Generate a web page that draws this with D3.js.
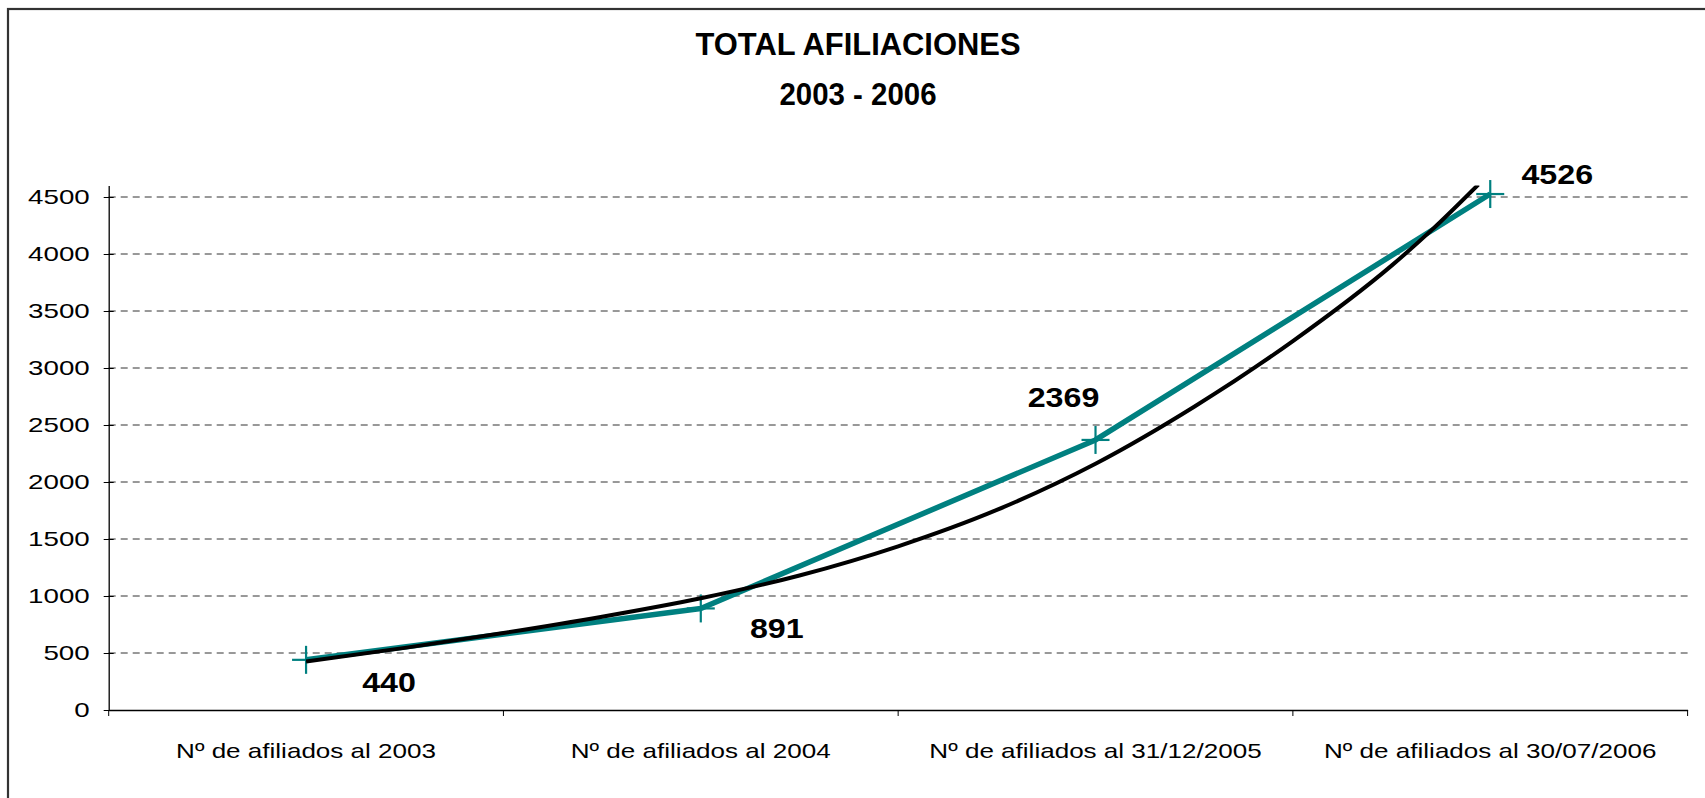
<!DOCTYPE html>
<html>
<head>
<meta charset="utf-8">
<script src="https://cdn.jsdelivr.net/npm/d3@7"></script>
<style>
  body { margin: 0; background: #fff; }
  svg { display: block; font-family: Arial, "Liberation Sans", sans-serif; }
</style>
</head>
<body>
<div id="chart"></div>
<script>
// datos del grafico
const categories = ["Nº de afiliados al 2003", "Nº de afiliados al 2004", "Nº de afiliados al 31/12/2005", "Nº de afiliados al 30/07/2006"];
const afiliados = [440, 891, 2369, 4526];
const yTicks = [0, 500, 1000, 1500, 2000, 2500, 3000, 3500, 4000, 4500];
// linea de tendencia, posicion en categorias 1..4
const trendPos = [1, 1.25, 1.5, 1.75, 2, 2.25, 2.5, 2.75, 3, 3.25, 3.5, 3.75, 3.85, 3.97];
const trendValues = [425, 545, 675, 818, 980, 1180, 1436, 1755, 2160, 2660, 3236, 3898, 4205, 4610];
// desplazamiento de las etiquetas respecto al punto
const labelOffsets = [[83, 32], [76, 30], [-32, -33], [67, -10]];

const W = 1705, H = 798;
const plotLeft = 108.7, plotRight = 1687.6, plotBottom = 710, plotTop = 185.6;
const teal = "#008080";

const svg = d3.select("#chart").append("svg")
    .attr("width", W)
    .attr("height", H);

// marco
svg.append("rect")
    .attr("x", 8).attr("y", 9)
    .attr("width", W + 20).attr("height", H + 20)
    .attr("fill", "#fff")
    .attr("stroke", "#333")
    .attr("stroke-width", 2.2);

// estirar el texto a lo ancho, como en la imagen original
function stretch(sel, k) {
    sel.each(function() {
        const len = this.getComputedTextLength();
        d3.select(this).attr("textLength", len * k).attr("lengthAdjust", "spacingAndGlyphs");
    });
}

// titulo
svg.append("text")
    .attr("x", 858).attr("y", 55)
    .attr("text-anchor", "middle")
    .attr("font-size", 32).attr("font-weight", "bold")
    .attr("textLength", 325).attr("lengthAdjust", "spacingAndGlyphs")
    .text("TOTAL AFILIACIONES");
svg.append("text")
    .attr("x", 858).attr("y", 105)
    .attr("text-anchor", "middle")
    .attr("font-size", 32).attr("font-weight", "bold")
    .attr("textLength", 157).attr("lengthAdjust", "spacingAndGlyphs")
    .text("2003 - 2006");

const x = d3.scaleBand()
    .domain(categories)
    .range([plotLeft, plotRight])
    .padding(0);

const xPos = d3.scaleLinear()
    .domain([0.5, categories.length + 0.5])
    .range([plotLeft, plotRight]);

const y = d3.scaleLinear()
    .domain([0, 4600])
    .range([plotBottom, plotTop]);

// lineas de division
svg.append("g")
    .selectAll("line")
    .data(yTicks.filter(d => d > 0))
    .enter().append("line")
    .attr("x1", plotLeft).attr("x2", plotRight)
    .attr("y1", d => y(d)).attr("y2", d => y(d))
    .attr("stroke", "#333")
    .attr("stroke-width", 1)
    .attr("stroke-dasharray", "7,5");

// eje y
const yAxis = svg.append("g")
    .attr("transform", `translate(${plotLeft},0)`)
    .call(d3.axisLeft(y).tickValues(yTicks).tickFormat(d3.format("d"))
        .tickSize(5).tickSizeOuter(0).tickPadding(14));
yAxis.select(".domain").attr("stroke", "#000").attr("stroke-width", 1.3);
yAxis.selectAll(".tick line").attr("x1", -5).attr("x2", 5).attr("stroke", "#000");
yAxis.selectAll(".tick text")
    .attr("font-size", 21).attr("font-family", "Arial, 'Liberation Sans', sans-serif")
    .attr("fill", "#000")
    .call(stretch, 1.32);

// eje x
const xAxis = svg.append("g")
    .attr("transform", `translate(0,${plotBottom})`)
    .call(d3.axisBottom(x).tickSize(0).tickSizeOuter(0).tickPadding(33));
xAxis.select(".domain").attr("stroke", "#000").attr("stroke-width", 1.5);
xAxis.selectAll(".tick text")
    .attr("font-size", 21).attr("font-family", "Arial, 'Liberation Sans', sans-serif")
    .attr("fill", "#000")
    .call(stretch, 1.24);
xAxis.append("g")
    .selectAll("line")
    .data(d3.range(categories.length + 1))
    .enter().append("line")
    .attr("x1", d => plotLeft + d * x.bandwidth())
    .attr("x2", d => plotLeft + d * x.bandwidth())
    .attr("y1", 0).attr("y2", 6)
    .attr("stroke", "#000");

// serie
const cx = (d, i) => x(categories[i]) + x.bandwidth() / 2;

svg.append("path")
    .datum(afiliados)
    .attr("fill", "none")
    .attr("stroke", teal)
    .attr("stroke-width", 5.5)
    .attr("stroke-linejoin", "round")
    .attr("d", d3.line().x(cx).y(d => y(d)));

// marcadores +
const marks = svg.append("g").selectAll("g")
    .data(afiliados)
    .enter().append("g")
    .attr("transform", (d, i) => `translate(${cx(d, i)},${y(d)})`);
marks.append("line").attr("x1", -14).attr("x2", 14).attr("y1", 0).attr("y2", 0)
    .attr("stroke", teal).attr("stroke-width", 2.2);
marks.append("line").attr("x1", 0).attr("x2", 0).attr("y1", -14).attr("y2", 14)
    .attr("stroke", teal).attr("stroke-width", 2.2);

// tendencia
svg.append("defs").append("clipPath").attr("id", "plot")
    .append("rect").attr("x", plotLeft).attr("y", plotTop)
    .attr("width", plotRight - plotLeft).attr("height", plotBottom - plotTop);

svg.append("path")
    .datum(trendValues)
    .attr("clip-path", "url(#plot)")
    .attr("fill", "none")
    .attr("stroke", "#000")
    .attr("stroke-width", 4)
    .attr("d", d3.line()
        .x((d, i) => xPos(trendPos[i]))
        .y(d => y(d))
        .curve(d3.curveMonotoneX));

// etiquetas de datos
svg.append("g").selectAll("text")
    .data(afiliados)
    .enter().append("text")
    .attr("x", (d, i) => cx(d, i) + labelOffsets[i][0])
    .attr("y", (d, i) => y(d) + labelOffsets[i][1])
    .attr("text-anchor", "middle")
    .attr("font-size", 28).attr("font-weight", "bold")
    .attr("fill", "#000")
    .text(d => d)
    .call(stretch, 1.15);
</script>
</body>
</html>
